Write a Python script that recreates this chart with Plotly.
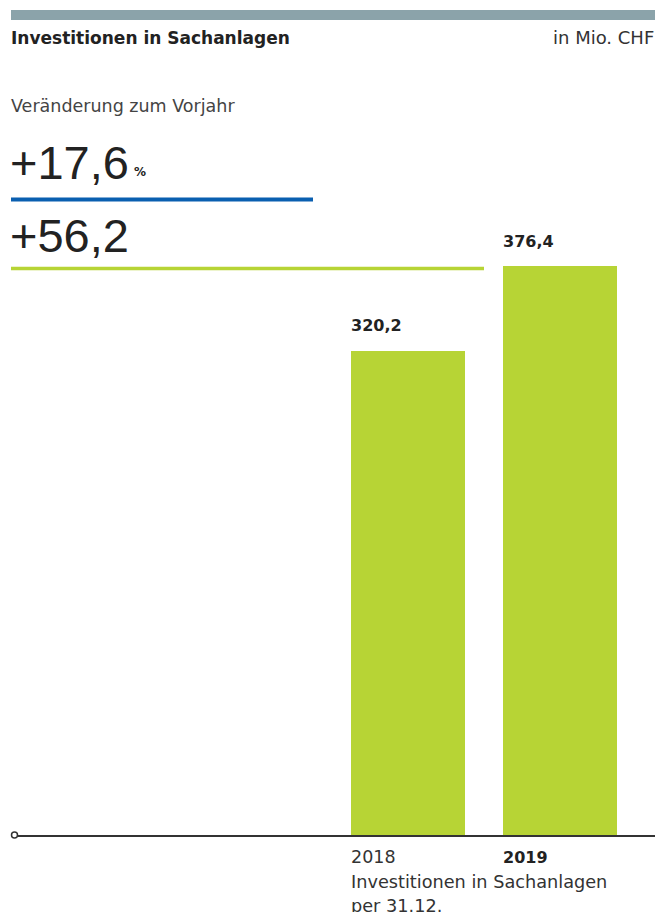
import plotly.graph_objects as go

years = ["2018", "2019"]
values = [320.2, 376.4]
value_labels = ["320,2", "376,4"]
title = "Investitionen in Sachanlagen"
unit = "in Mio. CHF"
change_caption = "Veränderung zum Vorjahr"
change_pct = "+17,6"
change_abs = "+56,2"
axis_caption = ["Investitionen in Sachanlagen", "per 31.12."]

W, H = 655, 912
GREEN = "#b7d435"
BLUE = "#0a5fb0"
GREY = "#8ba3aa"
TXT = "#222222"
FONT = "DejaVu Sans, Liberation Sans, sans-serif"
BIG = "Liberation Sans, Arial, sans-serif"

def px(x):
    return x / W

def py(y):
    return (H - y) / H

fig = go.Figure()
fig.add_trace(go.Bar(
    x=years, y=values, width=0.75, marker=dict(color=GREEN, line=dict(width=0)),
    hoverinfo="skip", showlegend=False,
))

# axis geometry: bar centers at 408 and 560 px, 152 px per category
unit_px = 152.0
x_left, x_right = 14, 655
c0 = 408
xr = [-(c0 - x_left) / unit_px, (x_right - c0) / unit_px]

# y: baseline at 835 px, 376.4 at 266 px
base_px = 835
scale = (base_px - 266) / values[1]
ymax = 400
top_px = base_px - ymax * scale

fig.update_layout(
    width=W, height=H,
    margin=dict(l=0, r=0, t=0, b=0),
    paper_bgcolor="white", plot_bgcolor="white",
    font=dict(family=FONT, color=TXT),
    xaxis=dict(domain=[px(x_left), px(x_right)], range=xr, type="category",
               showticklabels=False, showgrid=False, zeroline=False,
               showline=True, linecolor="#333333", linewidth=1.5, ticks=""),
    yaxis=dict(domain=[py(base_px), py(top_px)], range=[0, ymax],
               showticklabels=False, showgrid=False, zeroline=False, showline=False),
    bargap=0.25,
)

shapes = [
    dict(type="rect", xref="paper", yref="paper", x0=px(11), x1=px(655), y0=py(20), y1=py(10),
         fillcolor=GREY, line=dict(width=0), layer="above"),
    dict(type="line", xref="paper", yref="paper", x0=px(11), x1=px(313), y0=py(199.5), y1=py(199.5),
         line=dict(color=BLUE, width=4)),
    dict(type="rect", xref="paper", yref="y", x0=px(11), x1=px(484),
         ysizemode="pixel", yanchor=values[1], y0=-4.2, y1=-0.8,
         fillcolor=GREEN, line=dict(width=0)),
    dict(type="circle", xref="paper", yref="paper", x0=px(11.5), x1=px(17.5), y0=py(base_px + 3), y1=py(base_px - 3),
         fillcolor="white", line=dict(color="#333333", width=1.5), layer="above"),
]
fig.update_layout(shapes=shapes)

ann = []
def text(x, y, s, size, xanchor="left", bold=False, color=TXT, family=FONT):
    ann.append(dict(xref="paper", yref="paper", x=px(x), y=py(y), text=s, showarrow=False,
                    xanchor=xanchor, yanchor="middle",
                    font=dict(size=size, color=color, family=family, weight="bold" if bold else "normal")))

text(9, 38, title, 17, bold=True)
text(656, 38, unit, 18, xanchor="right", color="#333333")
text(9, 106, change_caption, 17.5, color="#444444")
text(8, 163, change_pct, 47, family=BIG)
text(132, 172, "%", 12, bold=True)
text(8, 235, change_abs, 47, family=BIG)

for i, (yr, v, lab) in enumerate(zip(years, values, value_labels)):
    ann.append(dict(xref="x", yref="y", x=i - 0.375, y=v, text=lab, showarrow=False,
                    xanchor="left", yanchor="middle", yshift=25, xshift=-2,
                    font=dict(size=16, color=TXT, family=FONT, weight="bold")))
    ann.append(dict(xref="x", yref="y", x=i - 0.375, y=0, text=yr, showarrow=False,
                    xanchor="left", yanchor="middle", yshift=-22, xshift=-2,
                    font=dict(size=16 if i == 1 else 17.5, color=TXT if i == 1 else "#333333", family=FONT,
                              weight="bold" if i == 1 else "normal")))

ann.append(dict(xref="x", yref="y", x=-0.375, y=0, text=axis_caption[0], showarrow=False,
                xanchor="left", yanchor="middle", yshift=-47, xshift=-2,
                font=dict(size=17.7, color="#333333", family=FONT)))
ann.append(dict(xref="x", yref="y", x=-0.375, y=0, text=axis_caption[1], showarrow=False,
                xanchor="left", yanchor="middle", yshift=-71, xshift=-2,
                font=dict(size=17.7, color="#333333", family=FONT)))

fig.update_layout(annotations=ann)
fig.write_html("out.html", config={"displayModeBar": False},
               post_script="document.body.style.margin='0';document.body.style.overflow='hidden';")
